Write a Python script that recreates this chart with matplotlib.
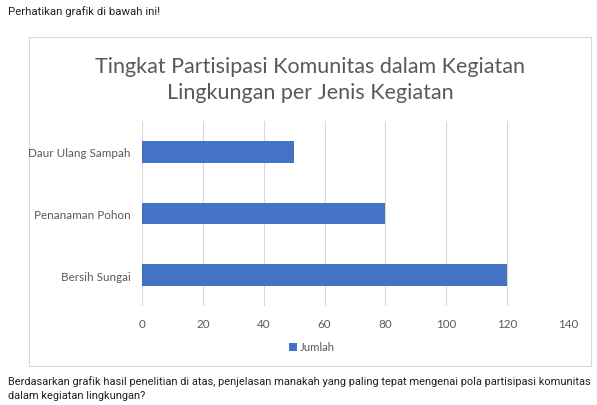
import matplotlib
matplotlib.use("Agg")
import matplotlib.pyplot as plt
from matplotlib.patches import Rectangle

# data
categories = ["Bersih Sungai", "Penanaman Pohon", "Daur Ulang Sampah"]
jumlah = [120, 80, 50]
xticks = [0, 20, 40, 60, 80, 100, 120, 140]
title = "Tingkat Partisipasi Komunitas dalam Kegiatan\nLingkungan per Jenis Kegiatan"
series_name = "Jumlah"
top_text = "Perhatikan grafik di bawah ini!"
bottom_text = ("Berdasarkan grafik hasil penelitian di atas, penjelasan manakah yang paling tepat mengenai pola partisipasi komunitas\n"
               "dalam kegiatan lingkungan?")

W, H = 597, 406
fig = plt.figure(figsize=(W / 100, H / 100), dpi=100)
fig.patch.set_facecolor("white")

grey = "#595959"
chart_font = "Lato"

# chart box
fig.add_artist(Rectangle((29 / W, 1 - 367 / H), (591 - 29) / W, (367 - 38) / H,
                         transform=fig.transFigure, facecolor="white",
                         edgecolor="#d9d9d9", linewidth=0.8, zorder=0))

ax = fig.add_axes([142 / W, 1 - 307 / H, 426 / W, 185 / H])
ax.set_facecolor("none")
ax.barh(range(len(categories)), jumlah, height=0.35, color="#4472C4", zorder=3,
        label=series_name)
ax.set_xlim(0, 140)
ax.set_ylim(-0.5, len(categories) - 0.5)
ax.set_xticks(xticks)
ax.set_yticks(range(len(categories)))
ax.set_yticklabels(categories)
ax.grid(axis="x", color="#d9d9d9", linewidth=0.8, zorder=0)
for s in ax.spines.values():
    s.set_visible(False)
ax.tick_params(length=0, colors=grey, labelsize=8.4)
ax.tick_params(axis="x", pad=9)
ax.tick_params(axis="y", pad=8)
for lbl in ax.get_xticklabels() + ax.get_yticklabels():
    lbl.set_fontfamily(chart_font)

fig.text(310 / W, 1 - 80 / H, title, ha="center", va="center", fontsize=15.5,
         color=grey, family=chart_font, linespacing=1.4)

leg = fig.legend(loc="center", bbox_to_anchor=(312 / W, 1 - 348 / H), frameon=False,
                 handlelength=0.7, handleheight=0.7, handletextpad=0.3,
                 prop={"family": chart_font, "size": 8.2})
for t in leg.get_texts():
    t.set_color(grey)

fig.text(8 / W, 1 - 12 / H, top_text, ha="left", va="center", fontsize=8.2,
         color="#222222", family="Roboto")
fig.text(8 / W, 1 - 389 / H, bottom_text, ha="left", va="center", fontsize=7.95,
         color="#222222", family="Roboto", linespacing=1.5)

fig.savefig("out.png", dpi=100)
